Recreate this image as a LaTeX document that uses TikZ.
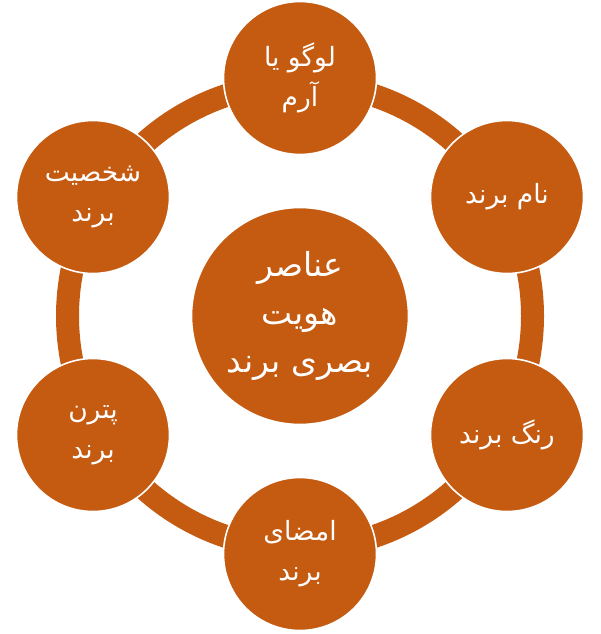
\documentclass[tikz,border=0pt]{standalone}
\usepackage{fontspec}
\newfontfamily\arabicfont[Script=Arabic]{DejaVu Sans}
\TeXXeTstate=1
\definecolor{brandorange}{HTML}{C55A11}
\tikzset{
  outer/.style={circle, fill=brandorange, draw=white, line width=1.6pt, minimum size=153pt, inner sep=0pt, text=white, align=center, font=\arabicfont\fontsize{26.5}{40}\selectfont},
  centre/.style={circle, fill=brandorange, draw=white, line width=1.6pt, minimum size=217pt, inner sep=0pt, text=white, align=center, font=\arabicfont\fontsize{33}{48}\selectfont},
  ringline/.style={draw=brandorange, line width=23pt}
}
\begin{document}
\begin{tikzpicture}[x=1pt,y=-1pt]
\path[use as bounding box, fill=white] (0,0) rectangle (600,634);
\coordinate (c) at (300,316);
\draw[ringline] (c) circle[radius=232.5];
\node[centre] (mid) at (c) {\beginR عناصر\endR\\\beginR هویت\endR\\\beginR بصری برند\endR};
\node[outer] (logo) at (300,78) {\beginR لوگو یا\endR\\\beginR آرم\endR};
\node[outer] (name) at (507,197) {\beginR نام برند\endR};
\node[outer] (color) at (507,435) {\beginR رنگ برند\endR};
\node[outer] (sign) at (300,554) {\beginR امضای\endR\\\beginR برند\endR};
\node[outer] (pattern) at (93,435) {\beginR پترن\endR\\\beginR برند\endR};
\node[outer] (person) at (93,197) {\beginR شخصیت\endR\\\beginR برند\endR};
\end{tikzpicture}
\end{document}
